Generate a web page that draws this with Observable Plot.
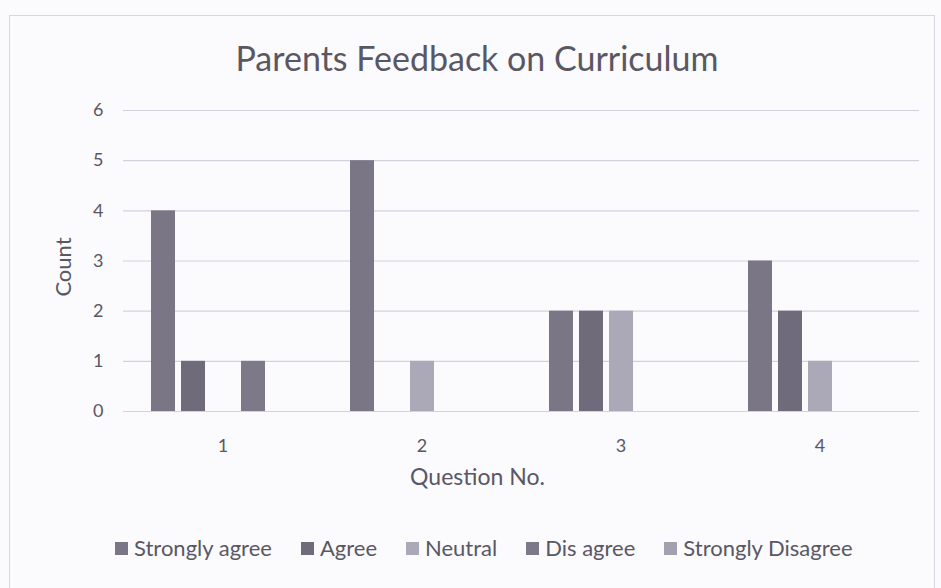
<!DOCTYPE html>
<html><head><meta charset="utf-8">
<script src="https://cdn.jsdelivr.net/npm/d3@7"></script>
<script src="https://cdn.jsdelivr.net/npm/@observablehq/plot@0.6"></script>
<style>
body{margin:0;width:941px;height:588px;background:#fbfafd;position:relative;overflow:hidden;font-family:Lato,"Open Sans",sans-serif;color:#595763}
#frame{position:absolute;left:9px;top:15px;width:924px;height:600px;border:1px solid #d8d6e0}
#title{position:absolute;left:0;width:954px;top:38px;text-align:center;font-size:34px;line-height:40px}
#chart{position:absolute;left:0;top:90px}
#count{position:absolute;left:62px;top:267px;transform:translate(-50%,-50%) rotate(-90deg);font-size:22px;white-space:nowrap}
#xlabel{position:absolute;left:0;width:955px;top:462px;text-align:center;font-size:23px;line-height:28px}
#legend{position:absolute;left:115px;top:534px;display:flex;align-items:center;font-size:22px;line-height:28px;white-space:nowrap}
#legend .item{display:flex;align-items:center;margin-right:29px}
#legend .sw{width:13px;height:13px;margin-right:6px}
</style></head>
<body>
<div id="frame"></div>
<div id="title">Parents Feedback on Curriculum</div>
<div id="chart"></div>
<div id="count">Count</div>
<div id="xlabel">Question No.</div>
<div id="legend"></div>
<script>
const questions = ["1", "2", "3", "4"];
const seriesNames = ["Strongly agree", "Agree", "Neutral", "Dis agree", "Strongly Disagree"];
const stronglyAgree = [4, 5, 2, 3];
const agree = [1, 0, 2, 2];
const neutral = [0, 1, 2, 1];
const disAgree = [1, 0, 0, 0];
const stronglyDisagree = [0, 0, 0, 0];
const yTicks = [0, 1, 2, 3, 4, 5, 6];
const seriesColors = ["#7a7686", "#6f6b7b", "#aba8b7", "#7d7989", "#a3a0af"];

const seriesValues = [stronglyAgree, agree, neutral, disAgree, stronglyDisagree];
const rows = [];
questions.forEach((q, i) => {
  seriesNames.forEach((s, j) => rows.push({question: q, series: s, value: seriesValues[j][i]}));
});

const chart = Plot.plot({
  width: 941,
  height: 410,
  marginLeft: 121,
  marginRight: 21,
  marginTop: 20,
  marginBottom: 89,
  fx: {domain: questions, padding: 0, label: null},
  x: {domain: seriesNames, paddingInner: 0.2, paddingOuter: 0.8175, axis: null},
  y: {domain: [0, 6], label: null},
  color: {domain: seriesNames, range: seriesColors},
  style: {fontFamily: "Lato, 'Open Sans', sans-serif", fontSize: "18px", color: "#595763", background: "transparent", overflow: "visible"},
  marks: [
    Plot.gridY(yTicks, {stroke: "#d3d1dd", strokeOpacity: 1, strokeWidth: 1.2}),
    Plot.axisY(yTicks, {tickSize: 0, tickPadding: 20, label: null, fontSize: 18, tickFormat: d3.format("d")}),
    Plot.axisFx({anchor: "bottom", tickSize: 0, tickPadding: 28, label: null, fontSize: 18}),
    Plot.barY(rows, {fx: "question", x: "series", y: "value", fill: "series"})
  ]
});
document.getElementById("chart").appendChild(chart);

const legend = document.getElementById("legend");
seriesNames.forEach((s, j) => {
  const item = document.createElement("div");
  item.className = "item";
  const sw = document.createElement("span");
  sw.className = "sw";
  sw.style.background = seriesColors[j];
  const t = document.createElement("span");
  t.textContent = s;
  item.appendChild(sw);
  item.appendChild(t);
  legend.appendChild(item);
});
</script>
</body></html>
